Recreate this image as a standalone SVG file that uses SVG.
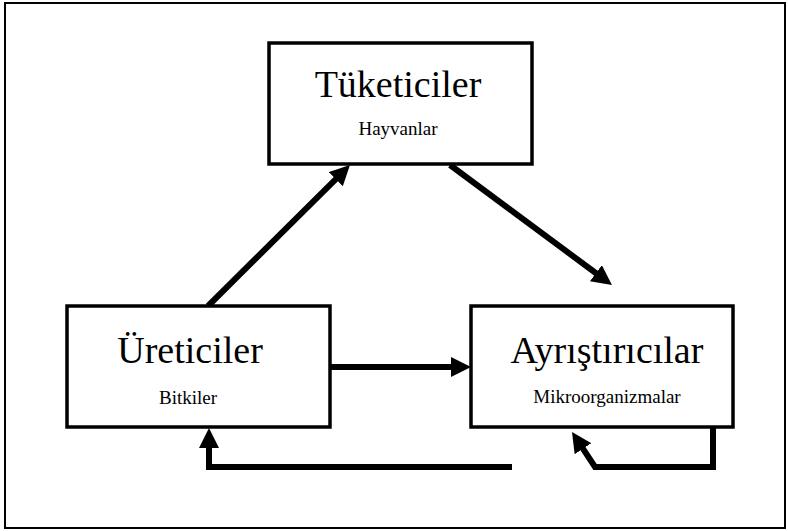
<svg xmlns="http://www.w3.org/2000/svg" width="788" height="531" viewBox="0 0 788 531">
<style>
.box{fill:#fff;stroke:#000;stroke-width:3.5}
.title{font-family:"Liberation Serif",serif;font-size:38px;fill:#000;text-anchor:middle}
.sub{font-family:"Liberation Serif",serif;font-size:19px;fill:#000;text-anchor:middle}
.conn{fill:none;stroke:#000;stroke-width:6;stroke-linejoin:miter}
</style>
<defs>
<marker id="ah" markerUnits="userSpaceOnUse" markerWidth="22" markerHeight="22" refX="4" refY="10" orient="auto">
<path d="M0,0 L20,10 L0,20 z" fill="#000"/>
</marker>
</defs>
<rect x="5" y="3" width="780" height="525" fill="#fff" stroke="#000" stroke-width="2"/>
<g id="connectors">
<path class="conn" d="M208,306 L338.6,176.3" marker-end="url(#ah)"/>
<path class="conn" d="M450,165 L599.1,275.5" marker-end="url(#ah)"/>
<path class="conn" d="M330,367 L455,367" marker-end="url(#ah)"/>
<path class="conn" d="M512,467 H209 V444" marker-end="url(#ah)"/>
<path class="conn" d="M713,427 V467 H595 L580.8,445.4" marker-end="url(#ah)"/>
</g>
<g id="tuketiciler">
<rect class="box" x="269" y="43" width="263" height="121"/>
<text class="title" x="398" y="97">Tüketiciler</text>
<text class="sub" x="398" y="135">Hayvanlar</text>
</g>
<g id="ureticiler">
<rect class="box" x="67" y="306" width="263" height="121"/>
<text class="title" x="190" y="363">Üreticiler</text>
<text class="sub" x="188" y="404">Bitkiler</text>
</g>
<g id="ayristiricilar">
<rect class="box" x="471" y="306" width="262" height="121"/>
<text class="title" x="607" y="363">Ayrıştırıcılar</text>
<text class="sub" x="607" y="403">Mikroorganizmalar</text>
</g>
</svg>
